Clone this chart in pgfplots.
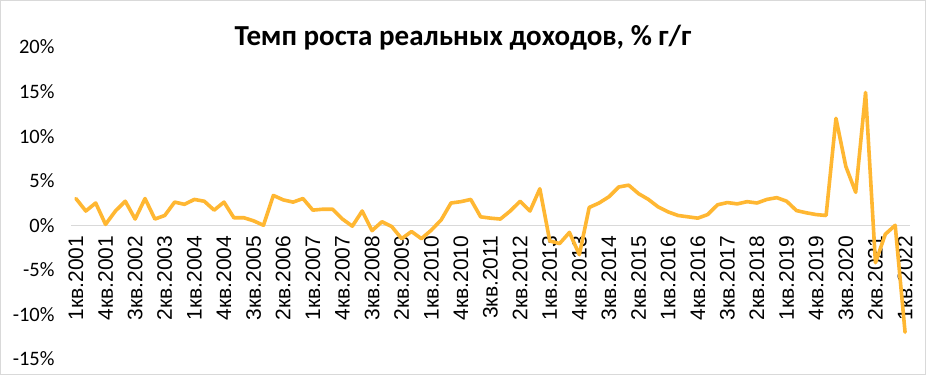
\documentclass[border=0pt]{standalone}
\usepackage{fontspec}
\setmainfont{Carlito}
\newfontfamily\xfont{Liberation Sans}
\usepackage{pgfplots}
\pgfplotsset{compat=1.18}
\usepackage{pgfplotstable}
\definecolor{lineorange}{RGB}{255,183,50}
\definecolor{zerogray}{RGB}{217,217,217}
\pgfplotstableread{
i v
0 3.0
1 1.6
2 2.5
3 0.1
4 1.6
5 2.7
6 0.7
7 3.0
8 0.7
9 1.1
10 2.6
11 2.35
12 2.9
13 2.7
14 1.7
15 2.6
16 0.85
17 0.85
18 0.5
19 0.0
20 3.35
21 2.85
22 2.6
23 3.0
24 1.7
25 1.8
26 1.8
27 0.7
28 -0.1
29 1.6
30 -0.6
31 0.4
32 -0.15
33 -1.5
34 -0.7
35 -1.5
36 -0.55
37 0.6
38 2.5
39 2.65
40 2.9
41 0.95
42 0.8
43 0.7
44 1.6
45 2.7
46 1.6
47 4.1
48 -1.75
49 -2.05
50 -0.8
51 -3.3
52 2.0
53 2.5
54 3.2
55 4.3
56 4.5
57 3.55
58 2.9
59 2.05
60 1.5
61 1.1
62 0.95
63 0.8
64 1.2
65 2.3
66 2.55
67 2.4
68 2.65
69 2.5
70 2.9
71 3.1
72 2.7
73 1.65
74 1.4
75 1.2
76 1.1
77 12.0
78 6.6
79 3.7
80 14.9
81 -4.2
82 -1.0
83 0.0
84 -12.0
}\datatable
\begin{document}
\begin{tikzpicture}
\useasboundingbox (0,0) rectangle (926pt,375pt);
\fill[white] (0,0) rectangle (926pt,375pt);
\begin{axis}[
  at={(71pt,16pt)}, anchor=south west,
  scale only axis, width=839pt, height=312pt,
  xmin=-0.5, xmax=84.5, ymin=-15, ymax=20,
  axis x line=middle, axis y line=left,
  x axis line style={-, draw=zerogray, line width=1.2pt},
  y axis line style={-, draw=none},
  major tick length=0pt,
  xtick={0,3,...,84},
  xticklabels={1кв.2001,4кв.2001,3кв.2002,2кв.2003,1кв.2004,4кв.2004,3кв.2005,2кв.2006,1кв.2007,4кв.2007,3кв.2008,2кв.2009,1кв.2010,4кв.2010,3кв.2011,2кв.2012,1кв.2013,4кв.2013,3кв.2014,2кв.2015,1кв.2016,4кв.2016,3кв.2017,2кв.2018,1кв.2019,4кв.2019,3кв.2020,2кв.2021,1кв.2022},
  xticklabel style={yshift=-7pt, rotate=90, anchor=east, font=\xfont\fontsize{21}{21}\selectfont, text=black},
  ytick={-15,-10,...,20},
  yticklabel={\pgfmathprintnumber{\tick}\%},
  yticklabel style={font=\fontsize{20.5}{20.5}\selectfont, xshift=-13pt, text=black},
  /pgf/number format/assume math mode=true,
  clip=false,
]
\addplot[lineorange, line width=3.6pt, line join=round, line cap=round] table[x=i, y=v] {\datatable};
\end{axis}
\node[font=\bfseries\fontsize{29}{29}\selectfont] at (463pt,337pt) {Темп роста реальных доходов, \% г/г};
\draw[zerogray, line width=1.2pt] (0.6pt,0.6pt) rectangle (925.4pt,374.4pt);
\end{tikzpicture}
\end{document}
